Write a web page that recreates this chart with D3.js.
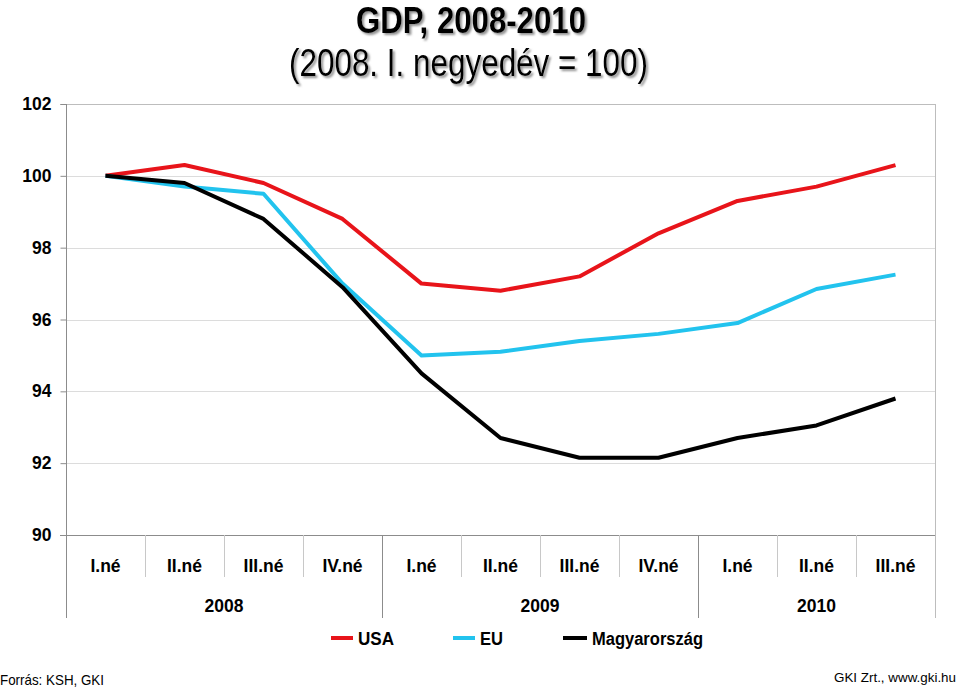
<!DOCTYPE html>
<html><head><meta charset="utf-8">
<script src="https://cdn.jsdelivr.net/npm/d3@7"></script>
<style>
body{margin:0;background:#fff;}
svg{display:block;font-family:"Liberation Sans",Arial,sans-serif;}
</style></head>
<body>
<script>
const quarters = ["I.né","II.né","III.né","IV.né","I.né","II.né","III.né","IV.né","I.né","II.né","III.né"];
const years = ["2008","2009","2010"];
const yearSpans = [4,4,3];
const usa = [100,100.3,99.8,98.8,97.0,96.8,97.2,98.4,99.3,99.7,100.3];
const eu = [100,99.7,99.5,97.0,95.0,95.1,95.4,95.6,95.9,96.85,97.25];
const hun = [100,99.8,98.8,96.9,94.5,92.7,92.15,92.15,92.7,93.05,93.8];
const seriesNames = ["USA","EU","Magyarország"];
const seriesColors = ["#e8141a","#22c3ee","#000000"];
const yTicks = [90,92,94,96,98,100,102];

(function(){
const W=960,H=688;
const svg=d3.select("body").append("svg").attr("width",W).attr("height",H);
const defs=svg.append("defs");
const f=defs.append("filter").attr("id","sh").attr("filterUnits","userSpaceOnUse")
  .attr("x",0).attr("y",0).attr("width",W).attr("height",100);
f.append("feDropShadow").attr("dx",2).attr("dy",2).attr("stdDeviation",1.2).attr("flood-color","#777").attr("flood-opacity",0.8);

const pL=66,pR=935,pT=104,pB=535;
const x=d3.scaleBand().domain(d3.range(quarters.length)).range([pL,pR]);
const y=d3.scaleLinear().domain([90,102]).range([pB,pT]);

// gridlines
svg.append("g").selectAll("line").data(yTicks.filter(d=>d>90&&d<102)).join("line")
  .attr("x1",pL).attr("x2",pR).attr("y1",d=>Math.round(y(d))+0.5).attr("y2",d=>Math.round(y(d))+0.5)
  .attr("stroke","#dcdcdc").attr("stroke-width",1);

// borders
const grey="#8c8c8c";
svg.append("line").attr("x1",pL-6).attr("x2",pR).attr("y1",pT+0.5).attr("y2",pT+0.5).attr("stroke","#bdbdbd");
svg.append("line").attr("x1",pR+0.5).attr("x2",pR+0.5).attr("y1",pT).attr("y2",618).attr("stroke","#bdbdbd");
svg.append("line").attr("x1",pL-6).attr("x2",pR).attr("y1",pB+0.5).attr("y2",pB+0.5).attr("stroke",grey);

// y axis
const yAxis=d3.axisLeft(y).tickValues(yTicks).tickSize(6).tickPadding(9);
const gy=svg.append("g").attr("transform",`translate(${pL+0.5},0)`).call(yAxis);
gy.select(".domain").remove();
gy.selectAll(".tick line").attr("stroke",grey);
gy.selectAll(".tick text").attr("font-size",17.5).attr("font-weight","bold").attr("font-family","Liberation Sans, Arial").attr("fill","#000");
svg.append("line").attr("x1",pL+0.5).attr("x2",pL+0.5).attr("y1",pT).attr("y2",618).attr("stroke",grey);

// category separators
const sepG=svg.append("g");
let cum=[];let acc=0;yearSpans.forEach(s=>{acc+=s;cum.push(acc);});
for(let i=1;i<quarters.length;i++){
  const xx=Math.round(x(i))+0.5;
  const isYear=cum.includes(i);
  sepG.append("line").attr("x1",xx).attr("x2",xx).attr("y1",pB).attr("y2",isYear?618:577)
    .attr("stroke",isYear?grey:"#c8c8c8");
}
// quarter labels
svg.append("g").selectAll("text").data(quarters).join("text")
  .attr("x",(d,i)=>x(i)+x.bandwidth()/2).attr("y",572).attr("text-anchor","middle")
  .attr("font-size",17.5).attr("font-weight","bold").text(d=>d);
// year labels
let start=0;
years.forEach((yr,k)=>{
  const s=start,e=start+yearSpans[k]-1;
  const cx=(x(s)+x(e)+x.bandwidth())/2;
  svg.append("text").attr("x",cx).attr("y",612).attr("text-anchor","middle")
    .attr("font-size",17.5).attr("font-weight","bold").text(yr);
  start+=yearSpans[k];
});

// lines
const line=d3.line().x((d,i)=>x(i)+x.bandwidth()/2).y(d=>y(d));
[usa,eu,hun].forEach((s,k)=>{
  svg.append("path").datum(s).attr("d",line).attr("fill","none")
    .attr("stroke",seriesColors[k]).attr("stroke-width",4).attr("stroke-linejoin","round");
});

// legend
const legX=[331,453,563];
const legW=[22,22,24];
const legTL=[36,23,111];
seriesNames.forEach((n,k)=>{
  svg.append("line").attr("x1",legX[k]).attr("x2",legX[k]+legW[k]).attr("y1",638).attr("y2",638)
    .attr("stroke",seriesColors[k]).attr("stroke-width",4);
  svg.append("text").attr("x",legX[k]+legW[k]+5).attr("y",645).attr("font-size",18).attr("font-weight","bold")
    .attr("textLength",legTL[k]).attr("lengthAdjust","spacingAndGlyphs").text(n);
});

// title (narrow)
svg.append("text").attr("x",356).attr("y",33)
  .attr("font-weight","bold").attr("font-size",36)
  .attr("textLength",230).attr("lengthAdjust","spacingAndGlyphs")
  .attr("filter","url(#sh)").text("GDP, 2008-2010");
svg.append("text").attr("x",289).attr("y",76)
  .attr("font-size",38)
  .attr("textLength",359).attr("lengthAdjust","spacingAndGlyphs")
  .attr("filter","url(#sh)").text("(2008. I. negyedév = 100)");

// footer
svg.append("text").attr("x",0).attr("y",685).attr("font-size",15)
  .attr("textLength",104).attr("lengthAdjust","spacingAndGlyphs").text("Forrás: KSH, GKI");
svg.append("text").attr("x",834).attr("y",682).attr("font-size",13.5)
  .attr("textLength",122).attr("lengthAdjust","spacingAndGlyphs").text("GKI Zrt., www.gki.hu");
})();
</script>
</body></html>
